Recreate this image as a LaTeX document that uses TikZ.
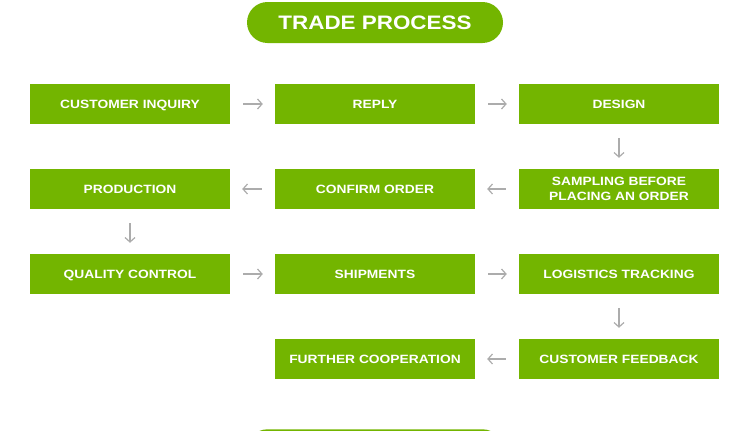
\documentclass[tikz,border=0pt]{standalone}
\usepackage{fontspec}
\setmainfont{Liberation Sans}[FakeStretch=1.15]
\usetikzlibrary{arrows.meta, positioning}
\definecolor{tradegreen}{RGB}{115,181,0}
\definecolor{arrowgray}{RGB}{172,172,172}

\begin{document}
\begin{tikzpicture}[x=1pt, y=-1pt,
    stepbox/.style={fill=tradegreen, text=white, inner sep=0pt, align=center,
      minimum width=200pt, minimum height=40pt,
      font=\bfseries\fontsize{12}{15}\selectfont, text height=8.6pt, text depth=0pt},
    titlepill/.style={fill=tradegreen, text=white, inner sep=0pt, rounded corners=20.5pt,
      minimum width=256pt, minimum height=41pt,
      font=\bfseries\fontsize{19.5}{21}\selectfont, text height=14pt, text depth=0pt},
    flow/.style={draw=arrowgray, line width=1.2pt, -{Straight Barb[length=4.5pt, width=10pt]}}]
  \useasboundingbox (0,0) rectangle (750,431);
  \clip (0,0) rectangle (750,431);

  \node[titlepill] (title) at (375,22.5) {TRADE PROCESS};

  % row 1
  \node[stepbox] (inquiry) at (130,104) {CUSTOMER INQUIRY};
  \node[stepbox] (reply)   at (375,104) {REPLY};
  \node[stepbox] (design)  at (619,104) {DESIGN};
  % row 2
  \node[stepbox] (production) at (130,189) {PRODUCTION};
  \node[stepbox] (confirm)    at (375,189) {CONFIRM ORDER};
  \node[stepbox, text height=23.6pt] (sampling) at (619,189) {SAMPLING BEFORE\\PLACING AN ORDER};
  % row 3
  \node[stepbox] (quality)   at (130,274) {QUALITY CONTROL};
  \node[stepbox] (shipments) at (375,274) {SHIPMENTS};
  \node[stepbox] (logistics) at (619,274) {LOGISTICS TRACKING};
  % row 4
  \node[stepbox] (further)  at (375,359) {FURTHER COOPERATION};
  \node[stepbox] (feedback) at (619,359) {CUSTOMER FEEDBACK};

  % arrows
  \draw[flow, shorten <=13pt, shorten >=12pt] (inquiry) -- (reply);
  \draw[flow, shorten <=13pt, shorten >=12pt] (reply) -- (design);
  \draw[flow, shorten <=14pt, shorten >=11pt] (design) -- (sampling);
  \draw[flow, shorten <=13pt, shorten >=12pt] (sampling) -- (confirm);
  \draw[flow, shorten <=13pt, shorten >=12pt] (confirm) -- (production);
  \draw[flow, shorten <=14pt, shorten >=11pt] (production) -- (quality);
  \draw[flow, shorten <=13pt, shorten >=12pt] (quality) -- (shipments);
  \draw[flow, shorten <=13pt, shorten >=12pt] (shipments) -- (logistics);
  \draw[flow, shorten <=14pt, shorten >=11pt] (logistics) -- (feedback);
  \draw[flow, shorten <=13pt, shorten >=12pt] (feedback) -- (further);

  % next section, cut off at the bottom
  \fill[tradegreen, rounded corners=20.5pt] (247,429.3) rectangle (503,470.3);
\end{tikzpicture}
\end{document}
